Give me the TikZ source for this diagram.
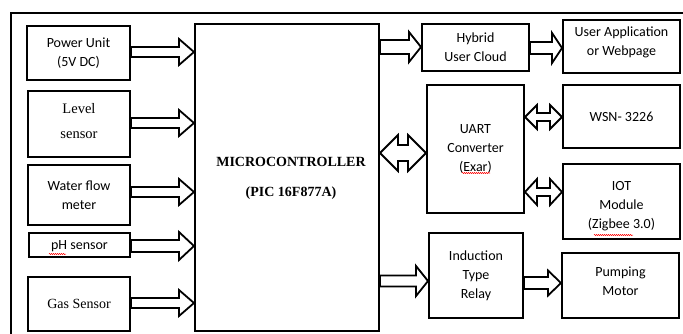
\documentclass[tikz,border=0pt]{standalone}
\usepackage{fontspec}
\setmainfont{Carlito}
\newfontfamily\tnr{Liberation Serif}
\usetikzlibrary{calc,decorations.pathmorphing}
\tikzset{
  x=1pt,y=-1pt,
  blk/.style={draw,line width=2pt,inner sep=0pt,align=center,
    font=\fontsize{14}{19}\selectfont},
  txt/.style={inner sep=0pt,align=center,font=\fontsize{14}{19}\selectfont},
  arr/.style={draw,line width=1.8pt,line join=miter,fill=white},
  frame/.style={line width=2pt},
  squig/.style={red,line width=0.5pt,decorate,
    decoration={snake,amplitude=0.6pt,segment length=2pt}}
}
% box: name, x1, y1, x2, y2, text
\newcommand{\bx}[7][]{%
  \node[blk,#1,minimum width={#5-#3},minimum height={#6-#4}] (#2)
    at ({(#3+#5)/2},{(#4+#6)/2}) {#7};}
% single arrow: from, to, y, shaft half, head half, head length
\newcommand{\sarr}[6]{%
  \coordinate (s) at (#1 |- 0,#3);
  \coordinate (e) at (#2 |- 0,#3);
  \draw[arr] ($(s)+(0,-#4)$) -- ($(e)+(-#6,-#4)$) -- ($(e)+(-#6,-#5)$)
    -- (e) -- ($(e)+(-#6,#5)$) -- ($(e)+(-#6,#4)$) -- ($(s)+(0,#4)$) -- cycle;}
% double arrow
\newcommand{\darr}[6]{%
  \coordinate (s) at (#1 |- 0,#3);
  \coordinate (e) at (#2 |- 0,#3);
  \draw[arr] (s) -- ($(s)+(#6,-#5)$) -- ($(s)+(#6,-#4)$) -- ($(e)+(-#6,-#4)$)
    -- ($(e)+(-#6,-#5)$) -- (e) -- ($(e)+(-#6,#5)$) -- ($(e)+(-#6,#4)$)
    -- ($(s)+(#6,#4)$) -- ($(s)+(#6,#5)$) -- cycle;}
\begin{document}
\begin{tikzpicture}
\useasboundingbox (0,0) rectangle (683,333);
% outer frame (top and left edges visible)
\coordinate (fr) at (683,13);
\coordinate (fc) at (11,13);
\coordinate (fb) at (11,334);
\draw[frame] (fr) -- (fc) -- (fb);

% left inputs
\bx{pwr}{27}{26}{130}{80}{Power Unit\\(5V DC)}
\bx{lvl}{28}{91}{130}{157}{}
\node[txt,font=\tnr\fontsize{14.5}{25}\selectfont] (lvlt) at (79,121) {Level\\sensor};
\bx{wfm}{28}{165}{130}{225}{Water flow\\meter}
\bx{ph}{29}{233}{130}{257}{}
\node[txt] (pht) at (79.5,246) {pH sensor};
\bx[font=\tnr\fontsize{14}{19}\selectfont]{gas}{28}{277}{130}{331}{Gas Sensor}

% microcontroller
\bx{mc}{195}{24}{379}{331}{}
\node[font=\tnr\bfseries\fontsize{14}{30}\selectfont,align=center,inner sep=0pt]
  (mct) at (291,178) {MICROCONTROLLER\\(PIC 16F877A)};

% right side
\bx{hyb}{422}{24}{529}{71}{Hybrid\\User Cloud}
\bx{usr}{563}{20}{680}{73}{}
\node[txt] (usrt) at (621.5,42) {User Application\\or Webpage};
\bx{uart}{427}{85}{524}{213}{UART\\Converter\\(Exar)}
\bx{wsn}{563}{85}{680}{148}{WSN- 3226}
\bx{iot}{563}{164}{680}{239}{}
\node[txt] (iott) at (621.5,206) {IOT\\Module\\(Zigbee 3.0)};
\bx{rel}{429}{233}{523}{318}{Induction\\Type\\Relay}
\bx{pmp}{562}{253}{679}{318}{}
\node[txt] (pmpt) at (620.5,281) {Pumping\\Motor};

% arrows into the microcontroller
\sarr{pwr.east}{mc.west}{52}{5}{13}{15}
\sarr{lvl.east}{mc.west}{123}{5}{13}{15}
\sarr{wfm.east}{mc.west}{192}{5}{13}{15}
\sarr{ph.east}{mc.west}{246}{6}{14}{15}
\sarr{gas.east}{mc.west}{303}{5}{13}{15}

% outputs
\sarr{mc.east}{hyb.west}{47}{7}{15}{12}
\sarr{hyb.east}{usr.west}{48}{6}{15}{10}
\darr{mc.east}{uart.west}{153}{8}{18}{18}
\darr{uart.east}{wsn.west}{117}{4}{12}{12}
\darr{uart.east}{iot.west}{192}{4}{13}{12}
\sarr{mc.east}{rel.west}{281}{5.5}{15}{12}
\sarr{rel.east}{pmp.west}{283}{6}{12.5}{13}

% spell-check marks
\coordinate (q1a) at (49,254); \coordinate (q1b) at (66,254);
\coordinate (q2a) at (462,173); \coordinate (q2b) at (490,173);
\coordinate (q3a) at (594,235); \coordinate (q3b) at (633,235);
\draw[squig] (q1a) -- (q1b);
\draw[squig] (q2a) -- (q2b);
\draw[squig] (q3a) -- (q3b);
\end{tikzpicture}
\end{document}
